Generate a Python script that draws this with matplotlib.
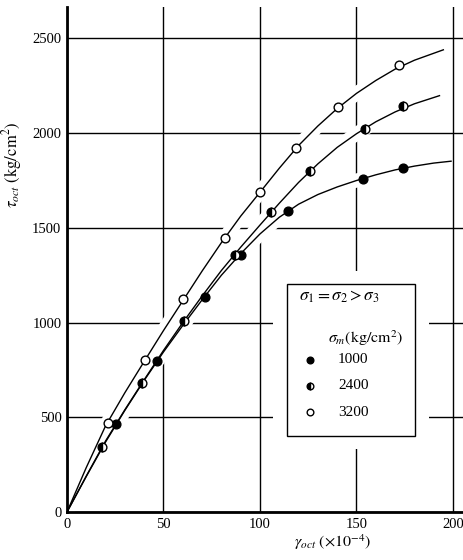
import matplotlib.pyplot as plt
from matplotlib.patches import Rectangle
from matplotlib.lines import Line2D

plt.rcParams["font.family"] = ["Liberation Serif", "DejaVu Serif"]
plt.rcParams["mathtext.fontset"] = "stix"

# measured points (gamma_oct x1e-4, tau_oct kg/cm2)
g_1000 = [25.6, 46.6, 71.3, 90.0, 114.7, 153.5, 174.3]
t_1000 = [463, 799, 1135, 1359, 1588, 1760, 1818]
g_2400 = [18.0, 38.9, 60.8, 87.0, 105.9, 126.0, 154.2, 174.0]
t_2400 = [345, 680, 1010, 1358, 1582, 1800, 2020, 2142]
g_3200 = [21.0, 40.4, 60.3, 81.9, 100.0, 118.7, 140.4, 172.2]
t_3200 = [470, 802, 1122, 1449, 1688, 1924, 2137, 2358]

# fitted curves
cg_1000 = [0, 10, 20, 30, 40, 50, 60, 70, 80, 90, 100, 110, 120, 130, 140, 150, 160, 170, 180, 190, 199]
ct_1000 = [0, 188, 370, 537, 695, 845, 985, 1120, 1250, 1364, 1468, 1556, 1625, 1676, 1716, 1750, 1780, 1806, 1826, 1842, 1852]
cg_2400 = [0, 10, 20, 30, 40, 50, 60, 70, 80, 90, 100, 110, 120, 130, 140, 150, 160, 170, 180, 193]
ct_2400 = [0, 190, 375, 540, 698, 853, 1000, 1140, 1275, 1398, 1515, 1630, 1740, 1838, 1925, 1997, 2060, 2112, 2155, 2198]
cg_3200 = [0, 10, 20, 30, 40, 50, 60, 70, 80, 90, 100, 110, 120, 130, 140, 150, 160, 170, 180, 195]
ct_3200 = [0, 235, 455, 630, 795, 958, 1115, 1272, 1422, 1562, 1688, 1815, 1935, 2038, 2130, 2210, 2278, 2338, 2385, 2440]

x_ticks = [0, 50, 100, 150, 200]
y_ticks = [0, 500, 1000, 1500, 2000, 2500]

fig = plt.figure(figsize=(4.64, 5.6), dpi=100)
ax = fig.add_axes([67 / 464, 48 / 560, 397 / 464, 505 / 560])
ax.set_xlim(0, 205.7)
ax.set_ylim(0, 2666)

for s in ["top", "right"]:
    ax.spines[s].set_visible(False)
for s in ["left", "bottom"]:
    ax.spines[s].set_linewidth(2.0)
    ax.spines[s].set_zorder(6)

ax.set_xticks(x_ticks)
ax.set_yticks(y_ticks)
ax.tick_params(length=0, labelsize=10.5, pad=4)
ax.grid(True, color="black", linewidth=1.0)
ax.set_axisbelow(True)

curves = [(cg_1000, ct_1000), (cg_2400, ct_2400), (cg_3200, ct_3200)]
# white halo breaks the grid where the curves cross it
for cg, ct in curves:
    ax.plot(cg, ct, color="white", linewidth=10, zorder=2, solid_capstyle="butt")
for cg, ct in curves:
    ax.plot(cg, ct, color="black", linewidth=1.0, zorder=3)

ms = 6.3
ax.plot(g_1000, t_1000, "o", color="black", markersize=ms, zorder=4)
ax.plot(g_2400, t_2400, "o", color="black", markerfacecolor="black", markerfacecoloralt="white",
        fillstyle="left", markeredgewidth=1.0, markersize=ms, zorder=4)
ax.plot(g_3200, t_3200, "o", color="black", markerfacecolor="white", markeredgewidth=1.0,
        markersize=ms, zorder=4)

ax.set_xlabel(r"$\gamma_{oct}\ (\times 10^{-4})$", fontsize=11.5)
ax.xaxis.set_label_coords(0.67, -0.04)
ax.set_ylabel(r"$\tau_{oct}\ (\mathrm{kg/cm^{2}})$", fontsize=12)
ax.yaxis.set_label_coords(-0.108, 0.687)

# legend box
bx0, bx1, by0, by1 = 0.553, 0.877, 0.151, 0.4515
mx, my = 0.034, 0.026
ax.add_patch(Rectangle((bx0 - mx, by0 - my), bx1 - bx0 + 2 * mx, by1 - by0 + 2 * my,
                       transform=ax.transAxes, facecolor="white", edgecolor="none", zorder=5))
ax.add_patch(Rectangle((bx0, by0), bx1 - bx0, by1 - by0, transform=ax.transAxes,
                       facecolor="white", edgecolor="black", linewidth=1.0, zorder=5))
ax.text(0.585, 0.427, r"$\sigma_1 = \sigma_2 > \sigma_3$", transform=ax.transAxes,
        fontsize=12.5, va="center", ha="left", zorder=6)
ax.text(0.658, 0.345, r"$\sigma_m(\mathrm{kg/cm^2})$", transform=ax.transAxes,
        fontsize=11.5, va="center", ha="left", zorder=6)

leg_labels = ["1000", "2400", "3200"]
leg_y = [0.301, 0.250, 0.198]
styles = [dict(markerfacecolor="black"),
          dict(markerfacecolor="black", markerfacecoloralt="white", fillstyle="left"),
          dict(markerfacecolor="white")]
for lab, yy, st in zip(leg_labels, leg_y, styles):
    ax.add_line(Line2D([0.613], [yy], transform=ax.transAxes, marker="o", color="black",
                       markersize=4.8, markeredgewidth=1.0, linestyle="none", zorder=6, **st))
    ax.text(0.683, yy, lab, transform=ax.transAxes, fontsize=11, va="center",
            ha="left", zorder=6)

fig.savefig("out.png", dpi=100)
